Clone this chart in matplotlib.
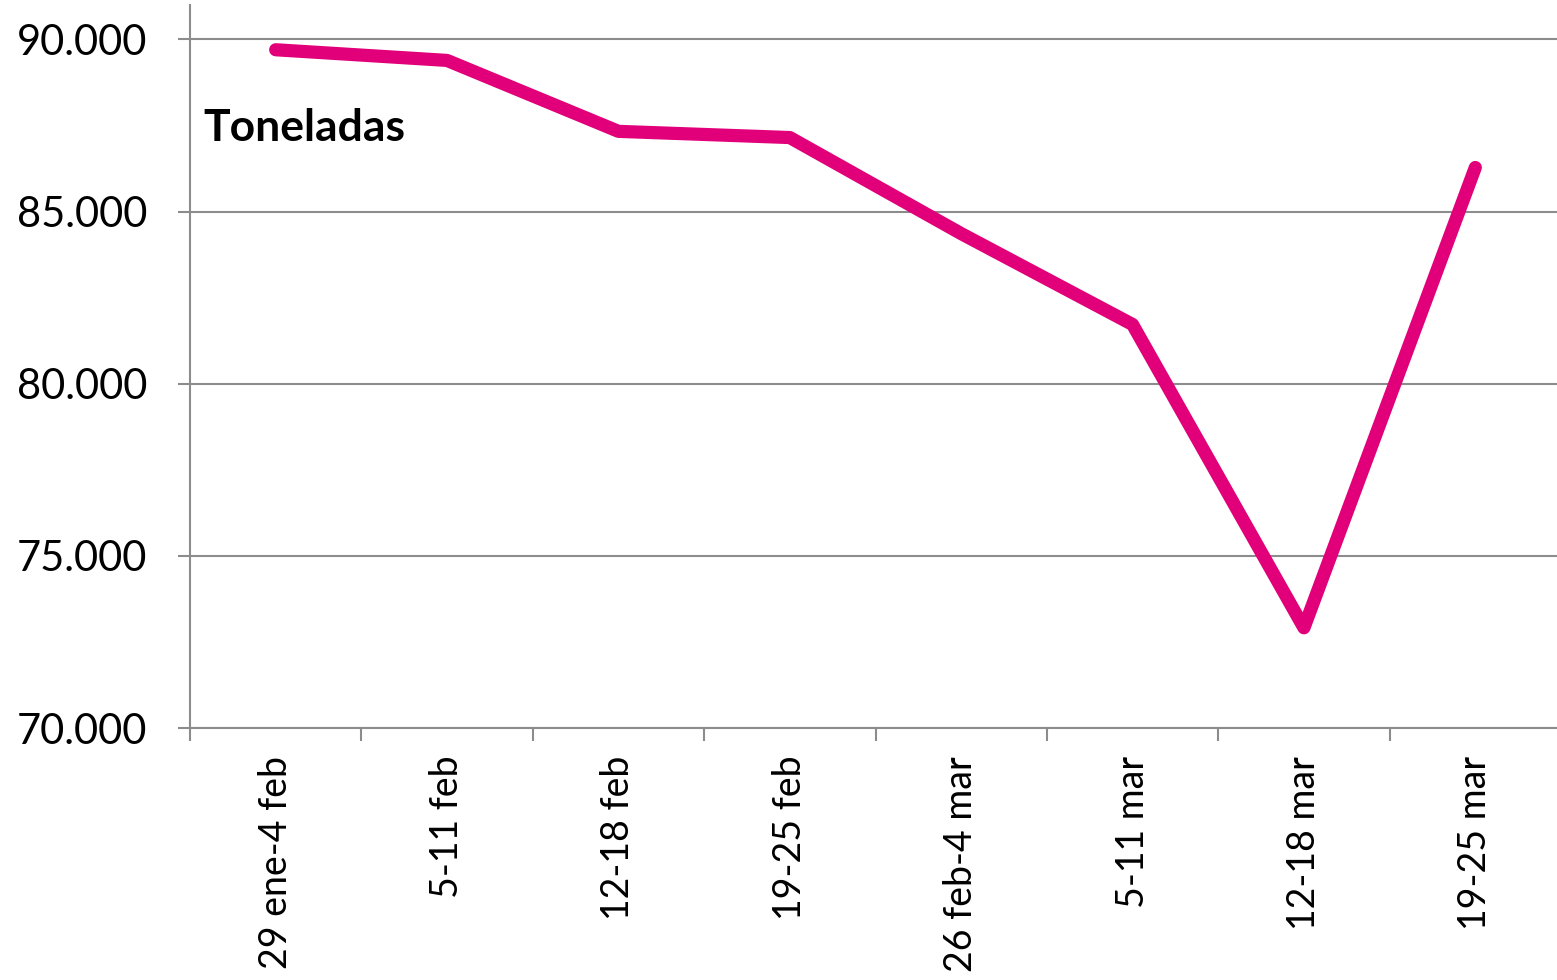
#!/usr/bin/env python

import matplotlib
matplotlib.use('Agg')
import matplotlib.pyplot as plt
import matplotlib.ticker as plticker

# weekly tonnage
WEEKS  = ['29 ene-4 feb', '5-11 feb', '12-18 feb', '19-25 feb',
          '26 feb-4 mar', '5-11 mar', '12-18 mar', '19-25 mar']
TONNES = [89700, 89390, 87330, 87150, 84360, 81720, 72910, 86280]

Y_TICKS = [70000, 75000, 80000, 85000, 90000]

LINE_COLOR = '#E2007A'
AXIS_COLOR = '#8C8C8C'
FONT_SIZE  = 30
XLAB_SIZE  = 27

plt.rcParams['font.family'] = ['Lato', 'DejaVu Sans']

figure = plt.figure(figsize=(15.57, 9.80), dpi=100)
ax = figure.add_axes([190 / 1557, 1 - 728 / 980, 1371 / 1557, 723 / 980])

xData = list(range(len(WEEKS)))
ax.plot(xData, TONNES, color=LINE_COLOR, linewidth=9.5, solid_capstyle='round',
        solid_joinstyle='round', zorder=3, clip_on=False)

ax.set_xlim(-0.5, len(WEEKS) - 0.5)
ax.set_ylim(70000, 91000)

# y axis: thousands with dot separator
ax.set_yticks(Y_TICKS)
ax.yaxis.set_major_formatter(plticker.FuncFormatter(lambda v, p: '{:,.0f}'.format(v).replace(',', '.')))
ax.grid(axis='y', color=AXIS_COLOR, linewidth=1.5, zorder=0)

# x axis: ticks between categories, labels at centres
ax.set_xticks([i - 0.5 for i in range(len(WEEKS) + 1)])
ax.set_xticklabels([])
ax.set_xticks(xData, minor=True)
ax.set_xticklabels(WEEKS, minor=True, rotation=90, va='top', ha='center', fontsize=XLAB_SIZE)
ax.tick_params(axis='x', which='minor', length=0, pad=20)
ax.tick_params(axis='x', which='major', length=9, width=1.5, color=AXIS_COLOR)
ax.tick_params(axis='y', length=9, width=1.5, color=AXIS_COLOR, pad=22, labelsize=FONT_SIZE)

for side in ('top', 'right'):
    ax.spines[side].set_visible(False)
for side in ('left', 'bottom'):
    ax.spines[side].set_color(AXIS_COLOR)
    ax.spines[side].set_linewidth(1.5)

ax.text(0.01, 0.83, 'Toneladas', fontsize=32, fontweight='bold',
        transform=ax.transAxes, va='center', ha='left')

figure.savefig('out.png', dpi=100)
plt.close(figure)
